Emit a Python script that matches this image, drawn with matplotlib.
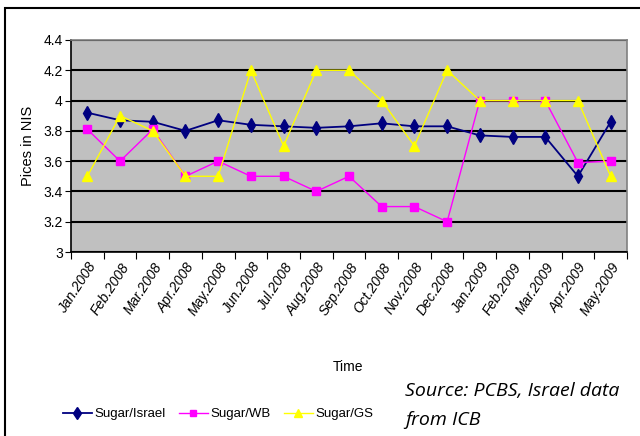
import matplotlib
matplotlib.use("Agg")
import matplotlib.pyplot as plt
import numpy as np

months = ["Jan.2008", "Feb.2008", "Mar.2008", "Apr.2008", "May.2008", "Jun.2008",
          "Jul.2008", "Aug.2008", "Sep.2008", "Oct.2008", "Nov.2008", "Dec.2008",
          "Jan.2009", "Feb.2009", "Mar.2009", "Apr.2009", "May.2009"]
sugar_israel = [3.92, 3.87, 3.86, 3.80, 3.87, 3.84, 3.83, 3.82, 3.83, 3.85, 3.83, 3.83,
                3.77, 3.76, 3.76, 3.50, 3.86]
sugar_wb = [3.81, 3.60, 3.81, 3.50, 3.60, 3.50, 3.50, 3.40, 3.50, 3.30, 3.30, 3.20,
            4.00, 4.00, 4.00, 3.59, 3.60]
sugar_gs = [3.50, 3.90, 3.80, 3.50, 3.50, 4.20, 3.70, 4.20, 4.20, 4.00, 3.70, 4.20,
            4.00, 4.00, 4.00, 4.00, 3.50]
yticks = [3, 3.2, 3.4, 3.6, 3.8, 4, 4.2, 4.4]
ytick_labels = ["3", "3.2", "3.4", "3.6", "3.8", "4", "4.2", "4.4"]

plt.rcParams['font.family'] = ['Liberation Sans', 'DejaVu Sans']

fig = plt.figure(figsize=(6.4, 4.36), dpi=100)
fig.patches.append(plt.Rectangle((5/640, -0.01), 1.0, 1 - 8/436 + 0.01,
                                 transform=fig.transFigure, fill=False,
                                 edgecolor='black', linewidth=1.5))

ax = fig.add_axes([71/640, 1 - 252/436, (627 - 71)/640, (252 - 40)/436])
ax.set_facecolor('#C0C0C0')

x = np.arange(len(months))
ax.plot(x, sugar_israel, color='#000080', marker='d', markersize=7.5, linewidth=1.3,
        label='Sugar/Israel', zorder=3)
ax.plot(x, sugar_wb, color='#FF00FF', marker='s', markersize=6, linewidth=1.0,
        label='Sugar/WB', zorder=4)
ax.plot(x, sugar_gs, color='#FFFF00', marker='^', markersize=7, linewidth=1.0,
        label='Sugar/GS', zorder=5)

ax.set_xlim(-0.5, len(months) - 0.5)
ax.set_ylim(3, 4.4)
ax.set_yticks(yticks)
ax.set_yticklabels(ytick_labels, fontsize=10)
ax.yaxis.grid(True, color='black', linewidth=1.5)
ax.set_axisbelow(True)

ax.set_xticks(np.arange(-0.5, len(months), 1.0))
ax.set_xticklabels([])
ax.set_xticks(x, minor=True)
ax.set_xticklabels(months, minor=True, rotation=57, ha='right',
                   rotation_mode='anchor', fontsize=10, style='italic')
ax.tick_params(axis='x', which='minor', length=0, pad=6)
ax.tick_params(axis='x', which='major', length=5, direction='out', color='black')
ax.tick_params(axis='y', length=4, direction='out', pad=2)

for s in ['top', 'right']:
    ax.spines[s].set_color('#808080')
    ax.spines[s].set_linewidth(1.2)
for s in ['left', 'bottom']:
    ax.spines[s].set_color('black')
    ax.spines[s].set_linewidth(1.2)

ax.set_ylabel('Pices in NIS', fontsize=10.5, labelpad=6)
fig.text(348/640, 1 - 367/436, 'Time', ha='center', va='center', fontsize=10)

fig.legend(loc='center', bbox_to_anchor=(218/640, 1 - 414/436), ncol=3,
           frameon=False, fontsize=9.5, handlelength=2.2, columnspacing=1.0,
           handletextpad=0.2, markerscale=0.8)

fig.text(405/640, 1 - 391/436, 'Source: PCBS, Israel data', fontsize=14,
         style='italic', family=['Open Sans', 'DejaVu Sans'], va='center')
fig.text(405/640, 1 - 420/436, 'from ICB', fontsize=14,
         style='italic', family=['Open Sans', 'DejaVu Sans'], va='center')

fig.savefig('out.png', dpi=100)
